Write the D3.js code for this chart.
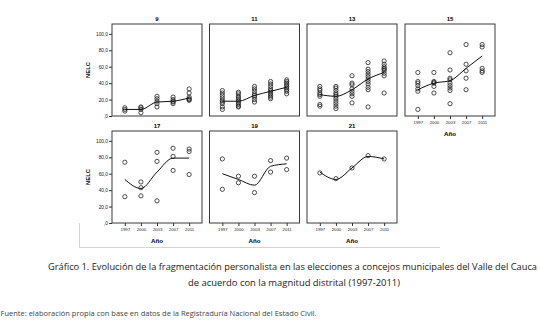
<!DOCTYPE html>
<html><head><meta charset="utf-8">
<script src="https://cdn.jsdelivr.net/npm/d3@7"></script>
<style>body{margin:0;background:#fff}svg{display:block}</style>
</head><body>
<svg id="c" width="540" height="320"></svg>
<script>
// ---- data ----
const years = ["1997","2000","2003","2007","2011"];
const magnitudes = ["9","11","13","15","17","19","21"];
const yTickValues = [0,20,40,60,80,100];

const nelc9  = [[10,8,6],[11,10,8,4],[24,21,18,15,11],[23,20,18,17,15],[33,28,23,21,20,19]];
const nelc11 = [[31,28,25,22,19,17,15,11,8],[29,27,24,22,20,18,16,14,12,11],[36,33,30,27,25,23,20,17],[42,39,36,33,31,29,27,25,23,21],[44,42,40,38,36,34,32,30,27]];
const nelc13 = [[36,33,31,28,26,24,14,12],[36,34,31,28,26,24,21,18,15,12,9],[49,40,38,33,30,27,24,16],[65,57,54,51,48,45,42,39,35,32,11],[67,63,60,58,57,55,52,49,28]];
const nelc15 = [[53,42,40,37,33,30,8],[53,42,41,40,36,28],[77,56,46,44,40,37,34,31,15],[87,63,55,46,32],[87,84,58,55,53]];
const nelc17 = [[74,32],[50,43,33],[86,75,27],[91,81,64],[90,87,59]];
const nelc19 = [[78,41],[57,49],[57,37],[76,62],[79,65]];
const nelc21 = [[61],[54],[67],[82],[78]];

const fit9  = [8,8,17,18,22];
const fit11 = [18,18,25,30,35];
const fit13 = [26,24,32,45,53];
const fit15 = [32,40,43,58,73];
const fit17 = [53,42,62,79,79];
const fit19 = [60,53,46,69,72];
const fit21 = [62,53,67,81,78];

const caption1 = "Gráfico 1. Evolución de la fragmentación personalista en las elecciones a concejos municipales del Valle del Cauca";
const caption2 = "de acuerdo con la magnitud distrital (1997-2011)";
const source = "Fuente: elaboración propia con base en datos de la Registraduría Nacional del Estado Civil.";
const yTitle = "NELC";
const xTitle = "Año";

// ---- layout ----
const points = [nelc9,nelc11,nelc13,nelc15,nelc17,nelc19,nelc21];
const fits = [fit9,fit11,fit13,fit15,fit17,fit19,fit21];
const colX = [112, 209.5, 307, 405];
const rowY = [24, 131];
const PW = 90, PH = 92;
const svg = d3.select("#c");
const font = "'Liberation Sans', Arial, sans-serif";

const x = d3.scalePoint().domain(years).range([0, PW]).padding(0.8);
const y = d3.scaleLinear().domain([0, 112]).range([PH, 0]);
const fmt = d => d === 0 ? ",0" : d.toFixed(1).replace(".", ",");

// light frame
svg.append("path").attr("d", "M79.5,223 V247.5 H440").attr("fill","none").attr("stroke","#d4d4d4").attr("stroke-width",1);

magnitudes.forEach((m, i) => {
  const row = i < 4 ? 0 : 1, col = i < 4 ? i : i - 4;
  const g = svg.append("g").attr("transform", `translate(${colX[col]},${rowY[row]})`);
  g.append("rect").attr("x",0).attr("y",0).attr("width",PW).attr("height",PH)
    .attr("fill","#fff").attr("stroke","#3a3a3a").attr("stroke-width",1);
  g.append("text").attr("x",PW/2).attr("y",-3).attr("text-anchor","middle")
    .attr("font-family",font).attr("font-size",6).attr("font-weight","bold").text(m);

  // points
  const pts = [];
  points[i].forEach((vals, j) => vals.forEach(v => pts.push([years[j], v])));
  g.selectAll("circle").data(pts).enter().append("circle")
    .attr("cx", d => x(d[0])).attr("cy", d => y(d[1])).attr("r", 2.1)
    .attr("fill","none").attr("stroke","#222").attr("stroke-width",0.8);

  // fit line
  const line = d3.line().x((d, j) => x(years[j])).y(d => y(d)).curve(d3.curveMonotoneX);
  g.append("path").attr("d", line(fits[i])).attr("fill","none").attr("stroke","#111").attr("stroke-width",1);

  if (col === 0) {
    const ya = g.append("g").call(d3.axisLeft(y).tickValues(yTickValues).tickFormat(fmt).tickSize(3).tickPadding(1));
    ya.select(".domain").remove();
    ya.selectAll("text").attr("font-family",font).attr("font-size",4.8).attr("fill","#222");
    ya.selectAll("line").attr("stroke","#333");
    g.append("text").attr("transform",`translate(-22,${PH/2}) rotate(-90)`).attr("text-anchor","middle")
      .attr("font-family",font).attr("font-size",5.8).attr("font-weight","bold").text(yTitle);
  }
  if (i >= 3) {
    const xa = g.append("g").attr("transform",`translate(0,${PH})`)
      .call(d3.axisBottom(x).tickSize(3).tickPadding(1.5));
    xa.select(".domain").remove();
    xa.selectAll("text").attr("font-family",font).attr("font-size",4.3).attr("fill","#222");
    xa.selectAll("line").attr("stroke","#333");
    g.append("text").attr("x",PW/2).attr("y",PH+20).attr("text-anchor","middle")
      .attr("font-family",font).attr("font-size",6.2).attr("font-weight","bold").text(xTitle);
  }
});

// captions
const capFont = "'Open Sans', 'Noto Sans', sans-serif";
svg.append("text").attr("x",292.5).attr("y",269.5).attr("text-anchor","middle")
  .attr("font-family",capFont).attr("font-size",9.3).attr("fill","#222")
  .attr("textLength",489).attr("lengthAdjust","spacingAndGlyphs").text(caption1);
svg.append("text").attr("x",294).attr("y",285.5).attr("text-anchor","middle")
  .attr("font-family",capFont).attr("font-size",9.3).attr("fill","#222")
  .attr("textLength",212).attr("lengthAdjust","spacingAndGlyphs").text(caption2);
svg.append("text").attr("x",0.5).attr("y",315.5).attr("text-anchor","start")
  .attr("font-family",capFont).attr("font-size",7.2).attr("fill","#444")
  .attr("textLength",316).attr("lengthAdjust","spacingAndGlyphs").text(source);
</script>
</body></html>
